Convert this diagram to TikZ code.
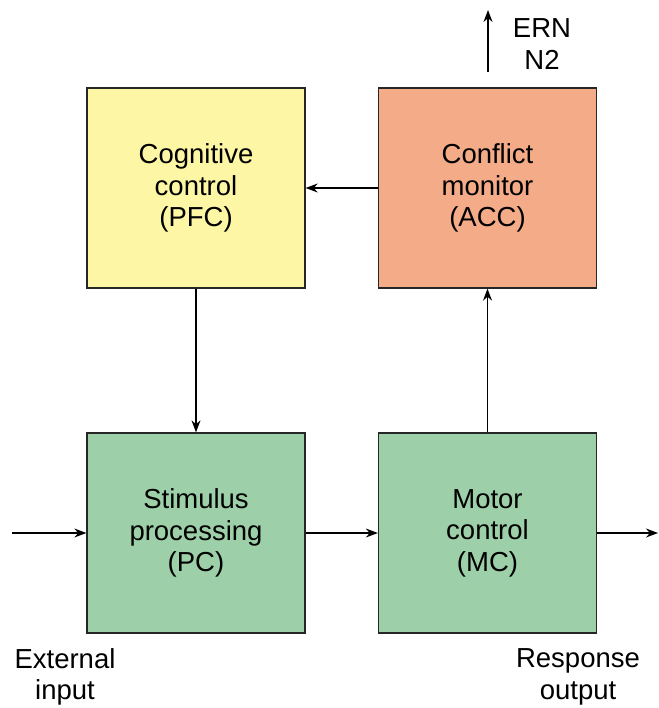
\documentclass[tikz,border=0pt]{standalone}
\usepackage{fontspec}
\setmainfont{Liberation Sans}
\usetikzlibrary{arrows.meta}
\definecolor{pfcyellow}{HTML}{FDF6A4}
\definecolor{accsalmon}{HTML}{F4AB87}
\definecolor{boxgreen}{HTML}{9DD0A9}
\begin{document}
\begin{tikzpicture}[x=1pt, y=-1pt]
    \tikzstyle{block_style}=[draw=black!85, line width=1.3pt, minimum width=218pt, minimum height=200pt, align=center, font=\fontsize{27.5}{31.5}\selectfont, inner sep=0pt]
    \tikzstyle{label_style}=[align=center, font=\fontsize{27.5}{31.5}\selectfont, inner sep=0pt]
    \tikzstyle{flow}=[line width=1.3pt, -{Stealth[length=12pt, width=9pt]}]
    \useasboundingbox (0,0) rectangle (658,708);

    % --- blocks ---
    \node[block_style, fill=pfcyellow] (pfc) at (196,188) {Cognitive\\control\\(PFC)};
    \node[block_style, fill=accsalmon] (acc) at (487.5,188) {Conflict\\monitor\\(ACC)};
    \node[block_style, fill=boxgreen] (pc) at (196,533) {Stimulus\\processing\\(PC)};
    \node[block_style, fill=boxgreen] (mc) at (487.5,533) {Motor\\control\\(MC)};

    % --- outside labels ---
    \node[label_style] (ern) at (542,44) {ERN\\N2};
    \node[label_style] (ext) at (65,677) {External\\input};
    \node[label_style] (resp) at (578,677) {Response\\output};
    \coordinate (ern_from) at (488,72);
    \coordinate (ern_to) at (488,10);
    \coordinate (in_from) at (12,533);
    \coordinate (out_to) at (658,533);

    % --- connectors ---
    \draw[flow] (acc.west) -- (pfc.east);
    \draw[flow] (pfc.south) -- (pc.north);
    \draw[flow] (mc.north) -- (mc.north |- acc.south);
    \draw[flow] (pc.east) -- (mc.west);
    \draw[flow] (in_from) -- (pc.west);
    \draw[flow] (mc.east) -- (out_to);
    \draw[flow] (ern_from) -- (ern_to);
  \end{tikzpicture}
\end{document}
